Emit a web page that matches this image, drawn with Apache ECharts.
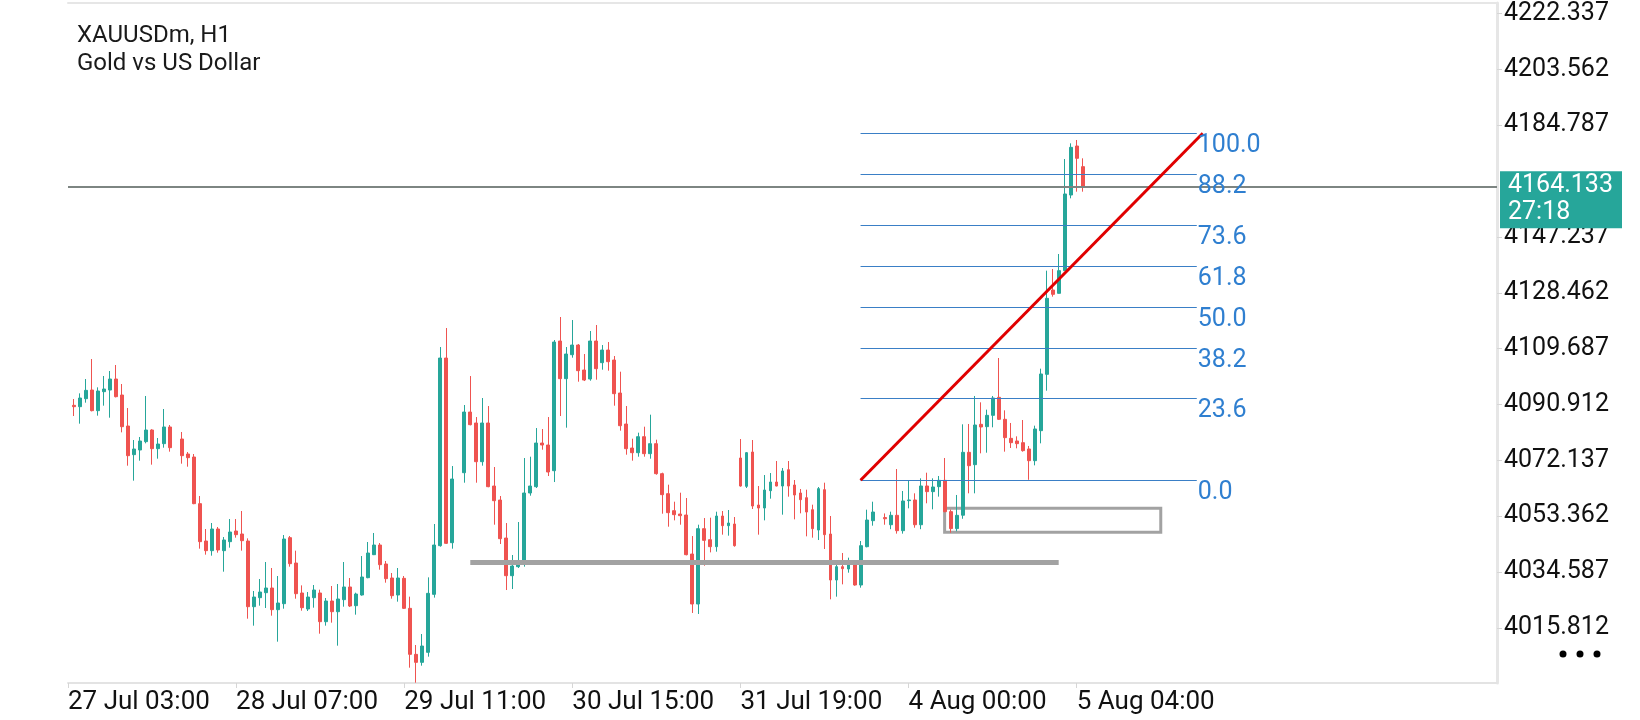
<!DOCTYPE html>
<html>
<head>
<meta charset="utf-8">
<title>XAUUSDm, H1</title>
<script src="https://cdn.jsdelivr.net/npm/echarts@6/dist/echarts.min.js"></script>
<style>
  html, body { margin: 0; padding: 0; background: #fff; }
  #main { width: 1640px; height: 720px; }
</style>
</head>
<body>
<div id="main"></div>
<script>
// H1 candles (open / close / low / high)
const opens = [4090.63,4090.18,4092.87,4095.78,4088.84,4095.22,4095.78,4099.48,4094.10,4083.68,
  4074.05,4075.62,4078.42,4082.34,4076.07,4077.75,4083.35,4079.31,4074.27,4073.26,
  4057.58,4045.03,4041.78,4049.06,4041.78,4044.81,4048.39,4047.38,4045.03,4022.95,
  4025.98,4027.66,4029.23,4021.95,4023.96,4046.15,4037.63,4027.55,4022.17,4025.98,
  4027.55,4017.91,4024.86,4021.27,4025.31,4029.57,4023.29,4026.88,4032.70,4040.43,
  4043.68,4037.30,4032.59,4026.88,4032.48,4022.39,4006.93,4004.24,4007.61,4027.10,
  4043.46,4106.53,4044.46,4067.99,4088.38,4084.69,4071.69,4084.69,4063.51,4058.80,
  4046.03,4033.37,4036.40,4038.64,4061.16,4063.29,4077.96,4077.29,4068.66,4112.25,
  4099.59,4107.65,4110.90,4102.50,4099.48,4112.25,4104.97,4109.22,4105.86,4094.77,
  4084.35,4076.28,4074.71,4080.09,4074.38,4077.74,4067.66,4060.94,4055.22,4054.10,
  4053.76,4040.65,4023.85,4049.17,4045.47,4043.12,4053.43,4050.18,4050.74,4072.93,
  4063.40,4074.94,4057.13,4056.12,4061.94,4064.86,4063.51,4069.00,4063.85,4061.16,
  4059.59,4055.56,4048.72,4062.28,4047.38,4031.92,4036.40,4035.62,4036.96,4030.24,
  4043.12,4051.86,4052.90,4050.50,4053.66,4048.50,4058.60,4058.82,4050.50,4063.52,
  4061.62,4063.30,4065.42,4054.90,4049.20,4053.70,4074.84,4070.69,4084.25,4083.47,
  4087.27,4093.32,4085.93,4079.54,4078.65,4078.08,4075.96,4072.03,4082.12,4101.05,
  4129.40,4128.28,4135.90,4161.33,4177.80,4170.86];
const closes = [4090.18,4093.09,4095.67,4088.84,4095.45,4096.12,4099.48,4093.54,4083.46,4073.71,
  4075.95,4078.64,4082.34,4076.07,4077.63,4083.35,4076.40,4073.71,4073.04,4057.58,
  4044.81,4041.78,4049.06,4042.01,4045.37,4048.05,4047.16,4045.14,4022.95,4026.20,
  4027.88,4029.23,4021.95,4024.19,4045.70,4037.41,4027.32,4022.62,4026.20,4028.56,
  4017.91,4024.86,4021.27,4025.53,4029.57,4023.18,4027.21,4032.93,4040.99,4043.68,
  4037.07,4032.37,4026.65,4032.59,4022.39,4006.93,4004.24,4009.73,4027.44,4043.68,
  4106.53,4044.24,4065.86,4088.38,4084.13,4071.69,4084.69,4063.29,4058.58,4045.81,
  4033.37,4036.62,4037.07,4061.16,4063.51,4077.96,4077.29,4068.22,4111.91,4099.59,
  4107.88,4110.90,4102.28,4099.14,4112.25,4102.95,4109.22,4105.30,4094.55,4083.79,
  4076.06,4074.71,4080.09,4074.38,4077.74,4067.66,4060.60,4054.55,4053.88,4053.54,
  4040.43,4023.85,4049.17,4045.25,4043.12,4053.43,4050.18,4051.08,4043.46,4063.51,
  4074.72,4056.79,4056.12,4062.17,4064.86,4063.51,4068.56,4063.51,4060.49,4058.92,
  4054.77,4049.17,4062.62,4047.16,4031.92,4036.40,4035.73,4036.96,4030.24,4043.46,
  4052.08,4054.77,4052.50,4053.66,4048.50,4058.48,4058.82,4050.50,4063.52,4061.62,
  4063.19,4065.42,4054.89,4049.20,4053.66,4074.84,4070.35,4084.02,4083.35,4087.27,
  4093.10,4085.93,4079.77,4078.08,4077.75,4075.40,4072.03,4082.68,4101.17,4126.60,
  4127.94,4135.90,4161.67,4177.35,4173.66,4164.13];
const lows = [4087.04,4084.47,4091.53,4088.60,4087.16,4090.52,4086.48,4093.30,4081.55,4070.35,
  4065.31,4072.03,4077.86,4070.69,4072.70,4076.40,4075.06,4071.02,4070.01,4057.40,
  4042.45,4040.44,4040.10,4041.11,4034.72,4042.79,4046.15,4041.78,4018.92,4016.57,
  4023.29,4022.51,4019.93,4011.19,4022.28,4036.40,4025.64,4021.61,4021.50,4022.62,
  4013.88,4016.57,4017.58,4009.85,4022.95,4022.84,4020.27,4026.65,4032.50,4040.30,
  4035.39,4031.02,4025.64,4024.64,4022.20,4002.45,3997.41,4003.12,4006.15,4026.00,
  4043.12,4044.02,4042.45,4064.63,4083.90,4064.63,4070.35,4063.10,4050.51,4044.02,
  4028.55,4028.89,4035.95,4036.40,4060.26,4062.84,4075.72,4066.87,4064.85,4087.04,
  4083.12,4106.65,4098.58,4098.80,4098.91,4099.25,4102.61,4102.28,4090.51,4082.11,
  4074.04,4072.03,4073.37,4073.37,4072.70,4067.32,4054.21,4049.84,4051.97,4050.51,
  4040.20,4020.84,4020.50,4036.73,4041.21,4041.44,4047.16,4046.82,4043.12,4063.29,
  4062.84,4055.78,4047.16,4051.97,4059.26,4063.40,4053.88,4059.93,4052.31,4054.33,
  4046.60,4046.15,4045.36,4042.34,4025.42,4026.32,4030.46,4034.38,4030.01,4029.34,
  4042.90,4050.18,4050.50,4049.00,4047.50,4047.50,4056.01,4049.50,4049.00,4057.70,
  4055.68,4059.94,4054.70,4047.80,4048.30,4052.50,4061.06,4061.06,4074.50,4074.72,
  4083.24,4085.70,4075.06,4076.29,4076.18,4075.06,4065.60,4070.46,4077.86,4095.56,
  4127.16,4128.20,4135.80,4160.21,4162.45,4162.45];
const highs = [4092.76,4094.66,4099.48,4106.20,4096.68,4100.49,4102.17,4104.19,4097.80,4089.73,
  4078.98,4079.99,4093.77,4082.60,4079.65,4089.40,4084.02,4081.67,4074.94,4074.27,
  4060.16,4049.06,4051.08,4049.74,4046.37,4052.42,4052.42,4055.11,4045.92,4028.22,
  4032.25,4037.97,4035.95,4033.26,4047.04,4046.71,4041.78,4030.12,4027.88,4030.24,
  4028.67,4025.87,4029.90,4030.57,4037.97,4032.59,4027.66,4039.98,4044.69,4047.72,
  4044.35,4038.31,4034.27,4035.95,4033.26,4026.32,4010.07,4013.77,4032.81,4050.74,
  4110.23,4116.62,4070.23,4090.74,4100.48,4086.70,4093.09,4090.40,4069.90,4060.15,
  4051.07,4040.32,4051.41,4072.92,4073.37,4083.00,4082.67,4086.70,4112.58,4120.32,
  4110.23,4119.31,4111.24,4107.88,4115.61,4117.63,4110.90,4111.91,4107.21,4101.94,
  4090.40,4079.42,4081.44,4083.45,4087.49,4079.08,4068.00,4063.96,4058.24,4061.27,
  4059.48,4046.70,4050.51,4052.75,4052.87,4054.88,4055.11,4055.45,4053.09,4079.31,
  4074.94,4078.98,4063.51,4067.21,4067.88,4071.92,4069.56,4071.92,4065.53,4062.51,
  4062.28,4057.24,4063.18,4064.63,4053.43,4038.31,4041.00,4039.43,4037.30,4045.03,
  4055.56,4058.24,4054.30,4054.89,4069.23,4061.84,4065.32,4061.06,4066.10,4067.99,
  4066.10,4066.88,4072.93,4055.60,4060.50,4084.25,4084.36,4093.77,4091.64,4089.18,
  4093.77,4106.54,4088.95,4084.70,4080.21,4085.70,4076.97,4083.80,4102.96,4135.90,
  4136.46,4141.50,4173.43,4178.70,4179.82,4173.66];

// time axis: one label every 28 bars
const tickLabels = ['27 Jul 03:00', '28 Jul 07:00', '29 Jul 11:00', '30 Jul 15:00',
  '31 Jul 19:00', '4 Aug 00:00', '5 Aug 04:00'];
const tickStep = 28;
const slotCount = 239;          // bar slots across the plot (incl. empty future)
const firstSlot = 1;            // slot of the first visible candle
const skipAfter = [17, 63, 132]; // bars not read from the picture: keep later bars in place

// price scale labels
const priceTicks = [4222.337, 4203.562, 4184.787, 4147.237, 4128.462, 4109.687,
  4090.912, 4072.137, 4053.362, 4034.587, 4015.812];
const lastPrice = 4164.133;
const barTimer = '27:18';

// drawings on the chart
const fibLevels = [100, 88.2, 73.6, 61.8, 50, 38.2, 23.6, 0];
const fibLow = 4065.43, fibHigh = 4182.07;
const fibFrom = 132, fibTo = 188, trendTo = 189;
const supportPrice = 4037.96, supportFrom = 67, supportTo = 165;
const boxHigh = 4056.0, boxLow = 4047.96, boxFrom = 146, boxTo = 182;

const GREEN = '#26a69a', RED = '#ef5350', BLUE = '#2f7fd0';
const FONT = 'Roboto';

const slots = [];
for (let i = 0; i < slotCount; i++) slots.push(String(i));

const candles = slots.map(function () { return '-'; });
opens.forEach(function (o, k) {
  const shift = skipAfter.filter(function (g) { return g <= k; }).length;
  candles[firstSlot + k + shift] = [o, closes[k], lows[k], highs[k]];
});

const isTick = function (i) {
  return i % tickStep === 0 && i / tickStep < tickLabels.length;
};

const fibLines = fibLevels.map(function (lv) {
  const p = fibLow + (fibHigh - fibLow) * lv / 100;
  return [
    { coord: [fibFrom, p] },
    {
      coord: [fibTo, p],
      lineStyle: { color: '#3a7fc6', width: 1, type: 'solid' },
      label: {
        show: true, position: 'end', distance: 1, align: 'left', verticalAlign: 'top',
        formatter: lv.toFixed(1), color: BLUE, fontSize: 25, fontFamily: FONT
      }
    }
  ];
});

const chart = echarts.init(document.getElementById('main'));
chart.setOption({
  animation: false,
  backgroundColor: '#ffffff',
  title: {
    text: 'XAUUSDm, H1\nGold vs US Dollar',
    left: 72, top: 17,
    textStyle: { fontSize: 24, fontWeight: 'normal', color: '#1a1a1a', fontFamily: FONT, lineHeight: 28 }
  },
  grid: { left: 68, right: 143, top: 3, bottom: 37 },
  xAxis: [{
    type: 'category',
    data: slots,
    boundaryGap: false,
    axisLine: { lineStyle: { color: '#e3e3e3', width: 2 } },
    axisTick: { show: true, length: 5, interval: isTick, lineStyle: { color: '#d6d6d6' } },
    axisLabel: {
      interval: isTick,
      formatter: function (v, i) { return tickLabels[i / tickStep]; },
      align: 'left', margin: 6, fontSize: 26, color: '#111', fontFamily: FONT
    },
    splitLine: { show: false }
  }, {
    type: 'category',
    data: slots,
    position: 'top',
    boundaryGap: false,
    axisLine: { lineStyle: { color: '#e6e6e6', width: 2 } },
    axisTick: { show: false },
    axisLabel: { show: false }
  }],
  yAxis: {
    type: 'value',
    position: 'right',
    min: 3997.30,
    max: 4225.87,
    axisLine: { show: true, lineStyle: { color: '#e6e6e6', width: 3 } },
    axisTick: { show: true, length: 5, customValues: priceTicks, lineStyle: { color: '#d6d6d6' } },
    axisLabel: {
      customValues: priceTicks,
      formatter: function (v) { return v.toFixed(3); },
      margin: 7, fontSize: 25, color: '#111', fontFamily: FONT
    },
    splitLine: { show: false }
  },
  graphic: [
    { type: 'circle', shape: { cx: 1563, cy: 654, r: 3.5 }, style: { fill: '#000' } },
    { type: 'circle', shape: { cx: 1580, cy: 654, r: 3.5 }, style: { fill: '#000' } },
    { type: 'circle', shape: { cx: 1597, cy: 654, r: 3.5 }, style: { fill: '#000' } }
  ],
  series: [{
    type: 'candlestick',
    data: candles,
    barWidth: 3.4,
    itemStyle: {
      color: GREEN, color0: RED,
      borderColor: GREEN, borderColor0: RED,
      borderWidth: 1
    },
    markArea: {
      silent: true,
      itemStyle: { color: 'rgba(0,0,0,0)', borderColor: '#a2a2a2', borderWidth: 3 },
      data: [[{ coord: [boxFrom, boxHigh] }, { coord: [boxTo, boxLow] }]]
    },
    markLine: {
      silent: true,
      symbol: ['none', 'none'],
      label: { show: false },
      data: [
        [{ coord: [supportFrom, supportPrice] },
         { coord: [supportTo, supportPrice], lineStyle: { color: '#a2a2a2', width: 5, type: 'solid' } }],
        { yAxis: lastPrice, lineStyle: { color: '#7d8582', width: 2, type: 'solid' } }
      ].concat(fibLines).concat([
        [{ coord: [fibFrom, fibLow] },
         { coord: [trendTo, fibHigh], lineStyle: { color: '#e00000', width: 3, type: 'solid' } }]
      ])
    },
    markPoint: {
      silent: true,
      data: [{
        coord: [slotCount - 1, lastPrice],
        symbol: 'rect',
        symbolSize: [122, 57],
        symbolOffset: [64, 13],
        itemStyle: { color: GREEN, borderWidth: 0 },
        label: {
          show: true, position: 'insideLeft', distance: 8,
          formatter: lastPrice.toFixed(3) + '\n' + barTimer,
          color: '#fff', fontSize: 25, lineHeight: 27, fontFamily: FONT
        }
      }]
    }
  }]
});
</script>
</body>
</html>
